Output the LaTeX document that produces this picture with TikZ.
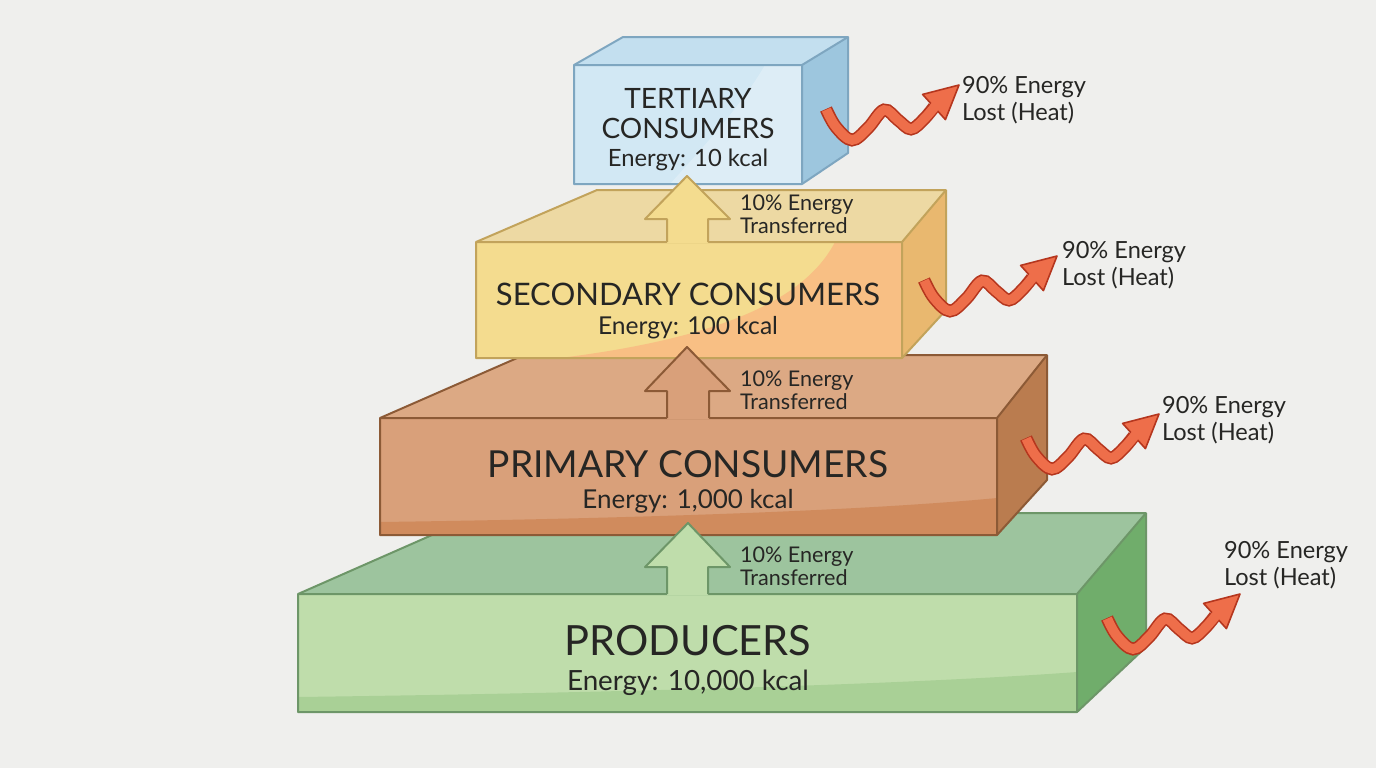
\documentclass[tikz,border=0pt]{standalone}
\usepackage{fontspec}
\setmainfont{Lato}
\usetikzlibrary{arrows.meta}

\definecolor{bgc}{HTML}{EFEFED}
\definecolor{inkc}{HTML}{262624}
\definecolor{terF}{HTML}{D2E8F4}
\definecolor{terT}{HTML}{C3DFEF}
\definecolor{terS}{HTML}{9DC6DE}
\definecolor{terE}{HTML}{7EA6C0}
\definecolor{secF}{HTML}{F4DC8F}
\definecolor{secO}{HTML}{F8BF84}
\definecolor{secT}{HTML}{EDD9A3}
\definecolor{secS}{HTML}{E9B86F}
\definecolor{secE}{HTML}{C2A35B}
\definecolor{priF}{HTML}{D9A07A}
\definecolor{priD}{HTML}{D08B5D}
\definecolor{priT}{HTML}{DCA984}
\definecolor{priS}{HTML}{BA7C4F}
\definecolor{priE}{HTML}{8C5A36}
\definecolor{proF}{HTML}{BFDDAB}
\definecolor{proD}{HTML}{A9D096}
\definecolor{proT}{HTML}{9DC49E}
\definecolor{proS}{HTML}{70AD6B}
\definecolor{proE}{HTML}{6D9668}
\definecolor{heatD}{HTML}{B5361E}
\definecolor{heatF}{HTML}{EE6E4A}

\tikzset{
  heat/.pic={
    \draw[heatD, line width=6.4pt] plot[smooth, tension=0.6] coordinates {(0,-8) (10,10) (26,23) (42,11) (58,-7) (72,3) (85,12) (98,2) (108,-10)};
    \filldraw[fill=heatF, draw=heatD, line width=0.8pt, line join=round] (96.6,-22.6) -- (133,-32) -- (119.4,2.6) -- cycle;
    \draw[heatF, line width=4.8pt] plot[smooth, tension=0.6] coordinates {(0.3,-7.4) (10,10) (26,23) (42,11) (58,-7) (72,3) (85,12) (98,2) (111,-13)};
  }
}

\begin{document}
\begin{tikzpicture}[x=0.5pt,y=-0.5pt,
  edge/.style={line width=1pt, line join=round},
  tiername/.style={text=inkc, anchor=base},
  xferlbl/.style={text=inkc, anchor=west, align=left, font=\fontsize{10.8}{11.5}\selectfont},
  heatlbl/.style={text=inkc, anchor=west, align=left, font=\fontsize{11.8}{13.3}\selectfont}]
\useasboundingbox (0,0) rectangle (1376,768);
\fill[bgc] (0,0) rectangle (1376,768);

% producers
\fill[proT] (298,594) -- (482,513) -- (1146,513) -- (1077,594) -- cycle;
\fill[proS] (1077,594) -- (1146,513) -- (1146,647) -- (1077,712) -- cycle;
\fill[proF] (298,594) rectangle (1077,712);
\fill[proD] (298,712) -- (298,697) .. controls (600,693) and (900,685) .. (1077,672) -- (1077,712) -- cycle;
\draw[edge, draw=proE] (298,594) -- (482,513) -- (1146,513) -- (1146,647) -- (1077,712) -- (298,712) -- cycle;
\draw[edge, draw=proE] (298,594) -- (1077,594) -- (1146,513) (1077,594) -- (1077,712);

% primary consumers
\fill[priT] (380,418) -- (524,355) -- (1047,355) -- (997,418) -- cycle;
\fill[priS] (997,418) -- (1047,355) -- (1047,480) -- (997,535) -- cycle;
\fill[priF] (380,418) rectangle (997,535);
\fill[priD] (380,535) -- (380,522) .. controls (600,519) and (850,512) .. (997,498) -- (997,535) -- cycle;
\draw[edge, draw=priE] (380,418) -- (524,355) -- (1047,355) -- (1047,480) -- (997,535) -- (380,535) -- cycle;
\draw[edge, draw=priE] (380,418) -- (997,418) -- (1047,355) (997,418) -- (997,535);

% secondary consumers
\fill[secT] (476,242) -- (597,190) -- (946,190) -- (902,242) -- cycle;
\fill[secS] (902,242) -- (946,190) -- (946,310) -- (902,358) -- cycle;
\fill[secF] (476,242) rectangle (902,358);
\fill[secO] (560,358) .. controls (720,338) and (805,300) .. (835,242) -- (902,242) -- (902,358) -- cycle;
\draw[edge, draw=secE] (476,242) -- (597,190) -- (946,190) -- (946,310) -- (902,358) -- (476,358) -- cycle;
\draw[edge, draw=secE] (476,242) -- (902,242) -- (946,190) (902,242) -- (902,358);

% tertiary consumers
\fill[terT] (574,65) -- (623,37) -- (848,37) -- (802,65) -- cycle;
\fill[terS] (802,65) -- (848,37) -- (848,153) -- (802,184) -- cycle;
\fill[terF] (574,65) rectangle (802,184);
\fill[white, opacity=0.25] (670,184) .. controls (710,140) and (745,100) .. (765,65) -- (802,65) -- (802,184) -- cycle;
\draw[edge, draw=terE] (574,65) -- (623,37) -- (848,37) -- (848,153) -- (802,184) -- (574,184) -- cycle;
\draw[edge, draw=terE] (574,65) -- (802,65) -- (848,37) (802,65) -- (802,184);

% transfer arrows
\fill[secF] (667,243) -- (667,219) -- (645,219) -- (687,176) -- (730,219) -- (708,219) -- (708,243) -- cycle;
\draw[edge, draw=secE] (667,242) -- (667,219) -- (645,219) -- (687,176) -- (730,219) -- (708,219) -- (708,242);
\fill[priF] (667,419) -- (667,391) -- (645,391) -- (687,347) -- (730,391) -- (709,391) -- (709,419) -- cycle;
\draw[edge, draw=priE] (667,418) -- (667,391) -- (645,391) -- (687,347) -- (730,391) -- (709,391) -- (709,418);
\fill[proF] (667,595) -- (667,567) -- (645,567) -- (688,523) -- (730,567) -- (708,567) -- (708,595) -- cycle;
\draw[edge, draw=proE] (667,594) -- (667,567) -- (645,567) -- (688,523) -- (730,567) -- (708,567) -- (708,594);

% names and energies
\node[tiername, font=\fontsize{14}{16}\selectfont] (terName) at (688,108) {TERTIARY};
\node[tiername, font=\fontsize{14}{16}\selectfont] (terName2) at (688,138) {CONSUMERS};
\node[tiername, font=\fontsize{11.9}{14}\selectfont] (terKcal) at (688,166) {Energy: 10 kcal};
\node[tiername, font=\fontsize{15.5}{18}\selectfont] (secName) at (688,305) {SECONDARY CONSUMERS};
\node[tiername, font=\fontsize{12.3}{14}\selectfont] (secKcal) at (688,334) {Energy: 100 kcal};
\node[tiername, font=\fontsize{18.6}{21}\selectfont] (priName) at (688,477) {PRIMARY CONSUMERS};
\node[tiername, font=\fontsize{13}{15}\selectfont] (priKcal) at (688,508) {Energy: 1,000 kcal};
\node[tiername, font=\fontsize{20.8}{24}\selectfont] (proName) at (688,655) {PRODUCERS};
\node[tiername, font=\fontsize{13.9}{16}\selectfont] (proKcal) at (688,690) {Energy: 10,000 kcal};

% transfer labels
\node[xferlbl] (xferS) at (733,214) {10\% Energy\\Transferred};
\node[xferlbl] (xferP) at (733,390) {10\% Energy\\Transferred};
\node[xferlbl] (xferR) at (733,566) {10\% Energy\\Transferred};

% heat losses
\coordinate (tailT) at (826,117);
\coordinate (tailS) at (924,288);
\coordinate (tailP) at (1026,446);
\coordinate (tailR) at (1107,626);
\pic at (tailT) {heat};
\pic at (tailS) {heat};
\pic at (tailP) {heat};
\pic at (tailR) {heat};
\node[heatlbl] (lossT) at (955,100) {90\% Energy\\Lost (Heat)};
\node[heatlbl] (lossS) at (1055,265) {90\% Energy\\Lost (Heat)};
\node[heatlbl] (lossP) at (1155,420) {90\% Energy\\Lost (Heat)};
\node[heatlbl] (lossR) at (1217,565) {90\% Energy\\Lost (Heat)};
\end{tikzpicture}
\end{document}
